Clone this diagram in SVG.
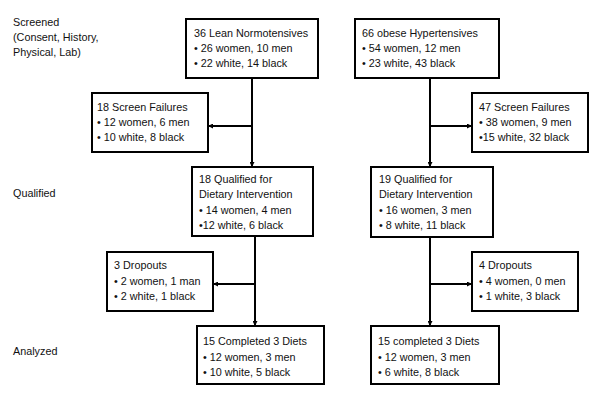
<svg xmlns="http://www.w3.org/2000/svg" width="601" height="404" viewBox="0 0 601 404">
<style>
text{font-family:"Liberation Sans",Arial,sans-serif;font-size:10.8px;fill:#111}
.box{fill:#fff;stroke:#000;stroke-width:2}
.ln{stroke:#000;stroke-width:2;fill:none}
</style>
<defs>
<marker id="ah" viewBox="0 0 10 10" refX="10" refY="5" markerWidth="5" markerHeight="5" orient="auto" markerUnits="userSpaceOnUse">
<path d="M0,0L10,5L0,10z" fill="#000"/>
</marker>
</defs>
<rect width="601" height="404" fill="#fff"/>
<g id="labels">
<text x="13" y="26">Screened</text>
<text x="13" y="41">(Consent, History,</text>
<text x="13" y="56">Physical, Lab)</text>
<text x="13" y="197">Qualified</text>
<text x="13" y="355">Analyzed</text>
</g>
<g id="connectors">
<line class="ln" x1="252" y1="78" x2="252" y2="167" marker-end="url(#ah)"/>
<line class="ln" x1="252" y1="126" x2="208" y2="126" marker-end="url(#ah)"/>
<line class="ln" x1="430" y1="78" x2="430" y2="167" marker-end="url(#ah)"/>
<line class="ln" x1="430" y1="126" x2="472" y2="126" marker-end="url(#ah)"/>
<line class="ln" x1="255" y1="236" x2="255" y2="326" marker-end="url(#ah)"/>
<line class="ln" x1="255" y1="284" x2="213" y2="284" marker-end="url(#ah)"/>
<line class="ln" x1="430" y1="237" x2="430" y2="326" marker-end="url(#ah)"/>
<line class="ln" x1="430" y1="284" x2="472" y2="284" marker-end="url(#ah)"/>
</g>
<g id="lean">
<rect class="box" x="186" y="19" width="132" height="59"/>
<text x="194" y="37">36 Lean Normotensives</text>
<text x="194" y="52">• 26 women, 10 men</text>
<text x="194" y="67">• 22 white, 14 black</text>
</g>
<g id="obese">
<rect class="box" x="355" y="19" width="144" height="59"/>
<text x="362" y="37">66 obese Hypertensives</text>
<text x="362" y="52">• 54 women, 12 men</text>
<text x="362" y="67">• 23 white, 43 black</text>
</g>
<g id="fail-left">
<rect class="box" x="92" y="93" width="116" height="59"/>
<text x="97" y="111">18 Screen Failures</text>
<text x="97" y="126">• 12 women, 6 men</text>
<text x="97" y="141">• 10 white, 8 black</text>
</g>
<g id="fail-right">
<rect class="box" x="472" y="93" width="116" height="59"/>
<text x="479" y="111">47 Screen Failures</text>
<text x="479" y="126">• 38 women, 9 men</text>
<text x="479" y="141">•15 white, 32 black</text>
</g>
<g id="qual-left">
<rect class="box" x="192" y="167" width="121" height="69"/>
<text x="199" y="183">18 Qualified for</text>
<text x="199" y="198">Dietary Intervention</text>
<text x="199" y="214">• 14 women, 4 men</text>
<text x="199" y="229">•12 white, 6 black</text>
</g>
<g id="qual-right">
<rect class="box" x="371" y="167" width="122" height="70"/>
<text x="379" y="183">19 Qualified for</text>
<text x="379" y="198">Dietary Intervention</text>
<text x="379" y="214">• 16 women, 3 men</text>
<text x="379" y="229">• 8 white, 11 black</text>
</g>
<g id="drop-left">
<rect class="box" x="107" y="252" width="106" height="59"/>
<text x="114" y="269">3 Dropouts</text>
<text x="114" y="285">• 2 women, 1 man</text>
<text x="114" y="300">• 2 white, 1 black</text>
</g>
<g id="drop-right">
<rect class="box" x="472" y="252" width="106" height="59"/>
<text x="479" y="269">4 Dropouts</text>
<text x="479" y="285">• 4 women, 0 men</text>
<text x="479" y="300">• 1 white, 3 black</text>
</g>
<g id="done-left">
<rect class="box" x="197" y="326" width="127" height="58"/>
<text x="203" y="345">15 Completed 3 Diets</text>
<text x="203" y="361">• 12 women, 3 men</text>
<text x="203" y="376">• 10 white, 5 black</text>
</g>
<g id="done-right">
<rect class="box" x="371" y="326" width="128" height="58"/>
<text x="378" y="345">15 completed 3 Diets</text>
<text x="378" y="361">• 12 women, 3 men</text>
<text x="378" y="376">• 6 white, 8 black</text>
</g>
</svg>
